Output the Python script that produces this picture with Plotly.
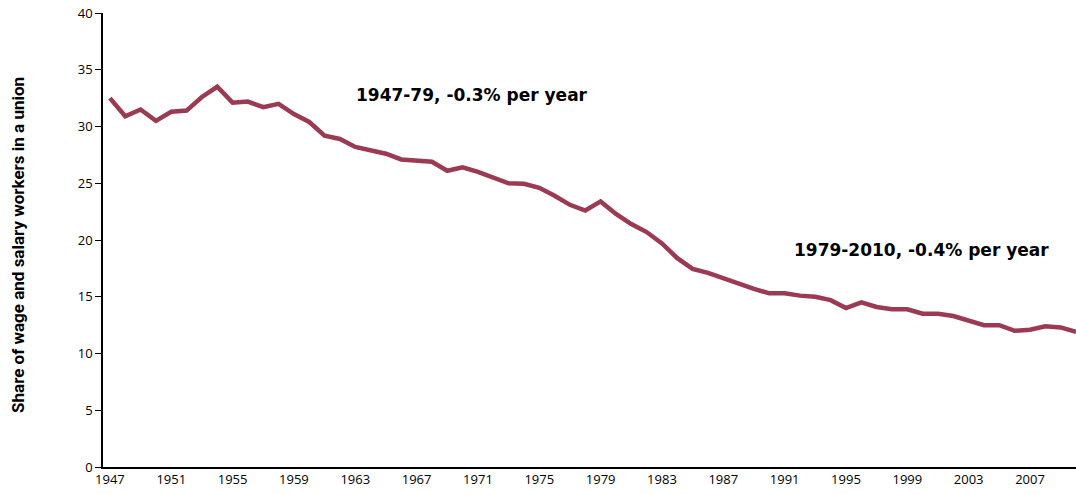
import plotly.graph_objects as go

years = list(range(1947, 2011))
union_share = [
    32.5, 30.9, 31.5, 30.5, 31.3, 31.4, 32.6, 33.5, 32.1, 32.2,
    31.7, 32.0, 31.1, 30.4, 29.2, 28.9, 28.2, 27.9, 27.6, 27.1,
    26.95, 26.9, 26.1, 26.4, 26.0, 25.5, 25.0, 24.95, 24.6, 23.9,
    23.1, 22.6, 23.4, 22.3, 21.4, 20.7, 19.7, 18.4, 17.45, 17.1,
    16.6, 16.2, 15.7, 15.3, 15.3, 15.1, 15.0, 14.7, 14.0, 14.5,
    14.1, 13.9, 13.9, 13.5, 13.5, 13.3, 12.9, 12.5, 12.5, 12.0,
    12.1, 12.4, 12.3, 11.9,
]
tick_years = list(range(1947, 2010, 4))
y_ticks = [0, 5, 10, 15, 20, 25, 30, 35, 40]
y_title = "Share of wage and salary workers in a union"

annotations_text = ["1947-79, -0.3% per year", "1979-2010, -0.4% per year"]
annotations_pos = [(1970.6, 32.8), (1999.9, 19.1)]

fig = go.Figure()
fig.add_trace(go.Scatter(
    x=years, y=union_share, mode="lines",
    line=dict(color="#9B3A52", width=4.5),
    hoverinfo="skip", showlegend=False, cliponaxis=False,
))

for txt, (ax, ay) in zip(annotations_text, annotations_pos):
    fig.add_annotation(x=ax, y=ay, text=f"<b>{txt}</b>", showarrow=False,
                       font=dict(family="DejaVu Sans, sans-serif", size=17, color="#000"))

fig.add_annotation(
    xref="paper", yref="paper", x=-0.0874, y=0.489, xanchor="center", yanchor="middle",
    text=f"<b>{y_title}</b>", textangle=-90, showarrow=False,
    font=dict(family="Roboto, sans-serif", size=17, color="#000"),
)

fig.update_layout(
    width=1076, height=494,
    margin=dict(l=103, r=0, t=13, b=27, autoexpand=False),
    paper_bgcolor="white", plot_bgcolor="white",
    font=dict(family="Open Sans, sans-serif", color="#000"),
    xaxis=dict(
        range=[1946.55, 2010], tickvals=tick_years, automargin=False,
        ticktext=[str(t) for t in tick_years],
        showgrid=False, zeroline=False, showline=True, linecolor="#000", linewidth=1.5,
        ticks="", tickfont=dict(size=13, color="#000"),
    ),
    yaxis=dict(
        range=[0, 40], tickvals=y_ticks, showgrid=False, zeroline=False, automargin=False,
        showline=True, linecolor="#000", linewidth=1.5,
        ticks="outside", ticklen=6, tickwidth=1.2, tickcolor="#000",
        tickfont=dict(size=13, color="#000"),
    ),
)

fig.write_html("out.html", config={"displayModeBar": False},
               post_script="document.body.style.margin='0';")
